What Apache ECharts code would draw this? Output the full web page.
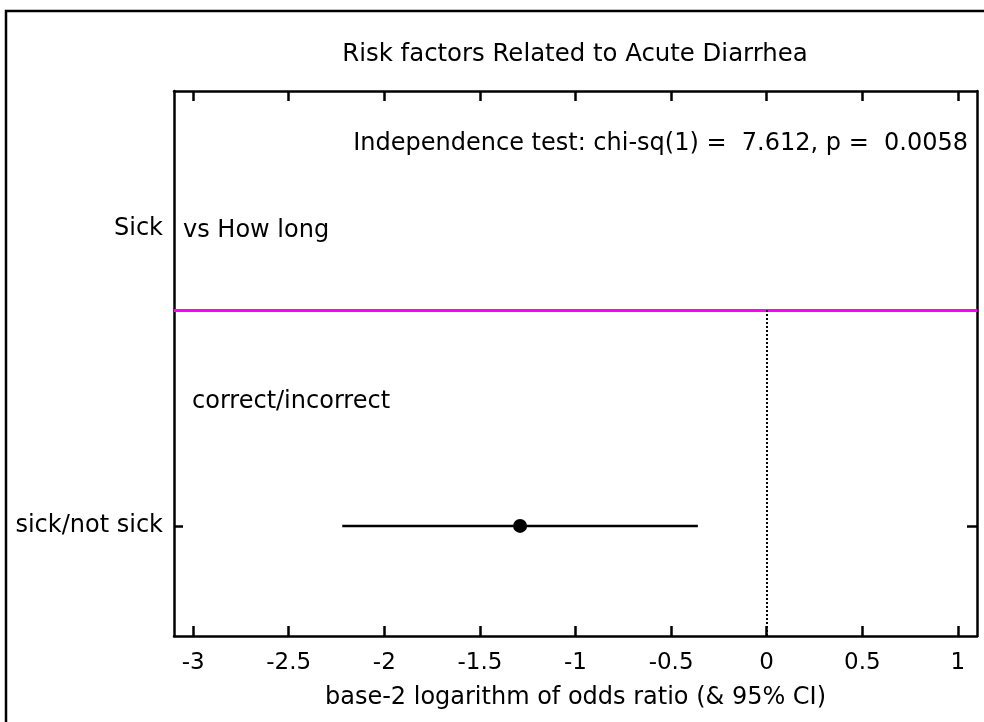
<!DOCTYPE html>
<html>
<head>
<meta charset="utf-8">
<script src="https://cdn.jsdelivr.net/npm/echarts@6/dist/echarts.min.js"></script>
<style>
html,body{margin:0;padding:0;background:#fff;}
#chart{width:984px;height:722px;}
</style>
</head>
<body>
<div id="chart"></div>
<script>
// ---- data ----
const categories = ['sick/not sick'];
const logOddsRatio = [-1.29];
const ciLow = [-2.22];
const ciHigh = [-0.36];
const xTickValues = [-3, -2.5, -2, -1.5, -1, -0.5, 0, 0.5, 1];
const groupLabel = 'Sick';
const groupSubLabel = 'vs How long';
const subHeader = 'correct/incorrect';
const chiSq = '7.612';
const pValue = '0.0058';
const titleText = 'Risk factors Related to Acute Diarrhea';
const xName = 'base-2 logarithm of odds ratio (& 95% CI)';

// ---- layout (vertical positions on a 0..100 scale) ----
const rowPos = [20.2];
const headerPos = 74.7;
const sepPos = 59.8;
const FONT = 'DejaVu Sans';

const chart = echarts.init(document.getElementById('chart'));

function labelFor(v) {
  for (let i = 0; i < rowPos.length; i++) if (Math.abs(v - rowPos[i]) < 1e-6) return categories[i];
  if (Math.abs(v - headerPos) < 1e-6) return groupLabel;
  return '';
}

const axisLineStyle = { color: '#000', width: 2.5 };
const tickStyle = { color: '#000', width: 2.5 };

const option = {
  backgroundColor: '#fff',
  animation: false,
  grid: { left: 174, right: 7, top: 91, bottom: 86, containLabel: false },
  xAxis: [
    {
      type: 'value', position: 'bottom', min: -3.1, max: 1.1,
      axisLine: { show: true, onZero: false, lineStyle: axisLineStyle },
      axisTick: { show: true, inside: true, length: 10, lineStyle: tickStyle, customValues: xTickValues },
      axisLabel: { customValues: xTickValues, color: '#000', fontFamily: FONT, fontSize: 23, margin: 16,
        formatter: v => String(v) },
      splitLine: { show: false },
      name: xName, nameLocation: 'middle', nameGap: 50,
      nameTextStyle: { color: '#000', fontFamily: FONT, fontSize: 24 }
    },
    {
      type: 'value', position: 'top', min: -3.1, max: 1.1,
      axisLine: { show: true, onZero: false, lineStyle: axisLineStyle },
      axisTick: { show: true, inside: true, length: 10, lineStyle: tickStyle, customValues: xTickValues },
      axisLabel: { show: false },
      splitLine: { show: false }
    }
  ],
  yAxis: [
    {
      type: 'value', position: 'left', min: 0, max: 100,
      axisLine: { show: true, onZero: false, lineStyle: axisLineStyle },
      axisTick: { show: true, inside: true, length: 9, lineStyle: tickStyle, customValues: rowPos },
      axisLabel: { customValues: rowPos.concat([headerPos]), color: '#000', fontFamily: FONT, fontSize: 24, margin: 11,
        padding: [5, 0, 0, 0], formatter: v => labelFor(v) },
      splitLine: { show: false }
    },
    {
      type: 'value', position: 'right', min: 0, max: 100,
      axisLine: { show: true, onZero: false, lineStyle: axisLineStyle },
      axisTick: { show: true, inside: true, length: 10, lineStyle: tickStyle, customValues: rowPos },
      axisLabel: { show: false },
      splitLine: { show: false }
    }
  ],
  series: [
    {
      type: 'custom',
      silent: true,
      data: categories.map((c, i) => [ciLow[i], ciHigh[i], rowPos[i]]),
      renderItem: function (params, api) {
        const p1 = api.coord([api.value(0), api.value(2)]);
        const p2 = api.coord([api.value(1), api.value(2)]);
        return { type: 'line', shape: { x1: p1[0], y1: p1[1], x2: p2[0], y2: p2[1] },
          style: { stroke: '#000', lineWidth: 2.5 } };
      },
      z: 3
    },
    {
      type: 'scatter',
      silent: true,
      data: categories.map((c, i) => [logOddsRatio[i], rowPos[i]]),
      symbol: 'circle', symbolSize: 14,
      itemStyle: { color: '#000', opacity: 1 },
      z: 4
    },
    {
      type: 'line',
      data: [],
      silent: true,
      markLine: {
        silent: true, symbol: 'none', animation: false,
        label: { show: false },
        data: [
          { yAxis: sepPos, lineStyle: { color: '#ff00ff', width: 3, type: 'solid', opacity: 1 } },
          [ { coord: [0, 0], lineStyle: { color: '#000', width: 2, type: [2, 2], opacity: 1 } }, { coord: [0, sepPos] } ]
        ]
      }
    }
  ],
  graphic: [
    { type: 'rect', shape: { x: 6, y: 11, width: 1100, height: 900 }, style: { fill: 'none', stroke: '#000', lineWidth: 2.5 }, silent: true },
    { type: 'text', x: 575, y: 55, style: { text: titleText, fill: '#000', font: '24.4px "DejaVu Sans"', textAlign: 'center', textVerticalAlign: 'middle' } },
    { type: 'text', x: 968, y: 144, style: { text: 'Independence test: chi-sq(1) =  ' + chiSq + ', p =  ' + pValue, fill: '#000', font: '24px "DejaVu Sans"', textAlign: 'right', textVerticalAlign: 'middle' } },
    { type: 'text', x: 183, y: 231, style: { text: groupSubLabel, fill: '#000', font: '24px "DejaVu Sans"', textAlign: 'left', textVerticalAlign: 'middle' } },
    { type: 'text', x: 192, y: 402, style: { text: subHeader, fill: '#000', font: '24px "DejaVu Sans"', textAlign: 'left', textVerticalAlign: 'middle' } }
  ]
};
chart.setOption(option);
</script>
</body>
</html>
